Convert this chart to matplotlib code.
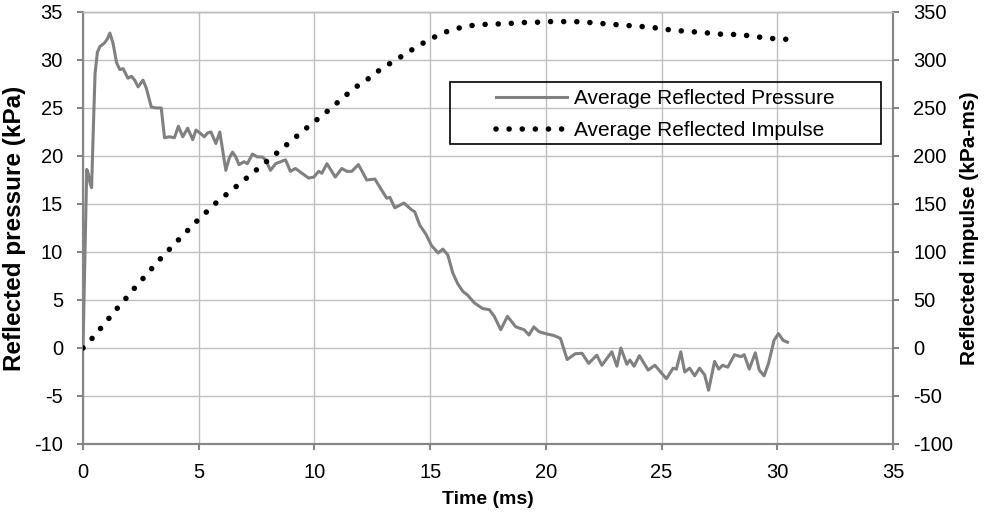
import matplotlib
matplotlib.use('Agg')
import matplotlib.pyplot as plt
from matplotlib.patches import Rectangle

plt.rcParams['font.family'] = ['Liberation Sans', 'DejaVu Sans']
plt.rcParams['axes.unicode_minus'] = False

# average reflected pressure trace (time in ms, pressure in kPa)
time_p = [0.0, 0.05, 0.16, 0.22, 0.3, 0.37, 0.44, 0.52, 0.62, 0.73, 0.94, 1.05, 1.16, 1.3,
          1.45, 1.59, 1.73, 1.94, 2.09, 2.23, 2.38, 2.59, 2.73, 2.95, 3.16, 3.38, 3.52,
          3.74, 3.95, 4.12, 4.31, 4.52, 4.74, 4.88, 5.05, 5.24, 5.38, 5.53, 5.74, 5.91,
          6.17, 6.32, 6.46, 6.6, 6.74, 6.96, 7.1, 7.32, 7.53, 7.75, 7.89, 8.1, 8.32, 8.75,
          8.96, 9.18, 9.46, 9.75, 9.97, 10.18, 10.32, 10.54, 10.9, 11.18, 11.4, 11.61,
          11.9, 12.26, 12.61, 13.12, 13.26, 13.47, 13.87, 14.19, 14.33, 14.55, 14.83,
          15.05, 15.34, 15.55, 15.76, 15.98, 16.19, 16.41, 16.62, 16.91, 17.27, 17.55,
          17.77, 18.05, 18.34, 18.7, 19.06, 19.27, 19.48, 19.7, 19.98, 20.34, 20.63,
          20.92, 21.27, 21.56, 21.85, 22.2, 22.42, 22.85, 23.07, 23.24, 23.5, 23.63,
          23.81, 24.04, 24.42, 24.71, 25.21, 25.5, 25.64, 25.83, 26.0, 26.21, 26.43,
          26.64, 26.86, 27.03, 27.29, 27.47, 27.64, 27.86, 28.15, 28.43, 28.57, 28.79,
          29.05, 29.22, 29.43, 29.62, 29.86, 30.05, 30.25, 30.44]
pressure = [0.0, 6.0, 18.6, 18.2, 17.2, 16.7, 22.5, 28.6, 30.8, 31.4, 31.8, 32.2, 32.8, 31.7,
            29.7, 29.0, 29.1, 28.1, 28.3, 27.9, 27.2, 27.9, 27.1, 25.1, 25.0, 25.0, 21.9,
            22.0, 21.9, 23.1, 22.0, 22.9, 21.7, 22.7, 22.4, 22.0, 22.4, 22.5, 21.3, 22.5,
            18.5, 19.8, 20.4, 19.9, 19.1, 19.4, 19.2, 20.2, 19.9, 19.9, 19.6, 18.5, 19.2, 19.6,
            18.4, 18.7, 18.2, 17.7, 17.8, 18.4, 18.2, 19.2, 17.8, 18.7, 18.4, 18.4,
            19.1, 17.5, 17.6, 15.6, 15.7, 14.6, 15.1, 14.4, 14.2, 12.8, 11.8,
            10.7, 9.9, 10.3, 9.7, 7.8, 6.7, 5.9, 5.5, 4.7, 4.1, 4.0,
            3.3, 1.9, 3.3, 2.2, 1.9, 1.35, 2.2, 1.7, 1.5, 1.3, 1.0,
            -1.2, -0.6, -0.55, -1.6, -0.75, -1.8, -0.4, -1.9, 0.0, -1.7, -1.25,
            -1.9, -0.8, -2.3, -1.8, -3.2, -2.1, -2.2, -0.4, -2.5, -2.1, -2.9,
            -2.1, -2.8, -4.4, -1.4, -2.2, -1.8, -2.0, -0.7, -0.9, -0.7, -2.2,
            -0.5, -2.3, -2.9, -1.6, 0.8, 1.5, 0.8, 0.6]

# cumulative reflected impulse (kPa-ms)
time_i = [0.0, 0.42, 0.78, 1.14, 1.5, 1.88, 2.24, 3.36, 4.14, 4.91, 5.74, 7.05, 8.32, 9.64,
          10.53, 11.37, 11.8, 12.3, 12.76, 13.24, 13.7, 14.17, 14.65, 15.15, 15.65, 16.18,
          16.75, 17.3, 17.87, 18.43, 18.98, 19.55, 20.12, 20.67, 21.25, 21.82, 22.4, 22.93,
          23.5, 24.05, 24.58, 25.15, 25.73, 26.28, 26.85, 27.42, 28.0, 28.53, 29.08, 29.61,
          30.19, 30.44]
impulse = [0.0, 10.7, 21.0, 31.5, 42.0, 52.4, 62.8, 93.4, 113.0, 132.0, 151.0, 176.7, 202.0,
           228.8, 246.0, 263.5, 272.0, 280.0, 288.5, 296.0, 302.8, 310.0, 317.0, 323.5,
           329.0, 333.0, 335.8, 337.0, 337.5, 338.0, 339.0, 339.2, 340.0, 340.0, 340.0,
           339.2, 338.0, 337.0, 336.0, 335.0, 334.0, 332.0, 330.5, 329.5, 328.5, 327.0,
           326.7, 326.0, 324.3, 322.6, 321.9, 321.5]

x_ticks = list(range(0, 36, 5))
p_ticks = list(range(-10, 36, 5))
i_ticks = list(range(-100, 351, 50))

spine_col = '#868686'
grid_col = '#bebebe'

fig = plt.figure(figsize=(9.85, 5.14), dpi=100)
ax = fig.add_axes([0.0843, 0.1362, 0.8223, 0.8405])
ax2 = ax.twinx()

ax.plot(time_p, pressure, color='#808080', lw=2.2, solid_joinstyle='round',
        label='Average Reflected Pressure', zorder=3)
ax2.plot(time_i, impulse, color='black', lw=4.0, linestyle=(0, (0.01, 2.35)),
         dash_capstyle='round', label='Average Reflected Impulse', zorder=3)

ax.set_xlim(0, 35)
ax.set_ylim(-10, 35)
ax2.set_ylim(-100, 350)
ax.set_xticks(x_ticks)
ax.set_yticks(p_ticks)
ax2.set_yticks(i_ticks)

ax.grid(True, color=grid_col, lw=1.0)
ax.set_axisbelow(True)

for a in (ax, ax2):
    for side in ('left', 'bottom', 'right'):
        a.spines[side].set_color(spine_col)
        a.spines[side].set_linewidth(1.5)
    a.spines['top'].set_color(grid_col)
    a.spines['top'].set_linewidth(1.0)
    a.tick_params(direction='out', length=4.5, width=1.5, color=spine_col,
                  labelsize=14.5, pad=10)
ax.tick_params(axis='x', pad=9.5)

ax.set_xlabel('Time (ms)', fontsize=14, fontweight='bold')
ax.set_ylabel('Reflected pressure (kPa)', fontsize=17.5, fontweight='bold')
ax2.set_ylabel('Reflected impulse (kPa-ms)', fontsize=15, fontweight='bold')
ax.xaxis.set_label_coords(0.5, -0.108)
ax.yaxis.set_label_coords(-0.0702, 0.5)
ax2.yaxis.set_label_coords(1.0825, 0.5)

# legend box with the entries centred inside
ax.add_patch(Rectangle((0.453, 0.694), 0.532, 0.144, transform=ax.transAxes,
                       fill=False, edgecolor='black', lw=1.2, zorder=4))
handles = ax.get_lines() + ax2.get_lines()
ax2.legend(handles, [h.get_label() for h in handles], loc='center',
           bbox_to_anchor=(0.719, 0.762), frameon=False, fontsize=15,
           handlelength=3.4, handletextpad=0.35, labelspacing=0.62, borderpad=0)

fig.savefig('out.png', dpi=100)
